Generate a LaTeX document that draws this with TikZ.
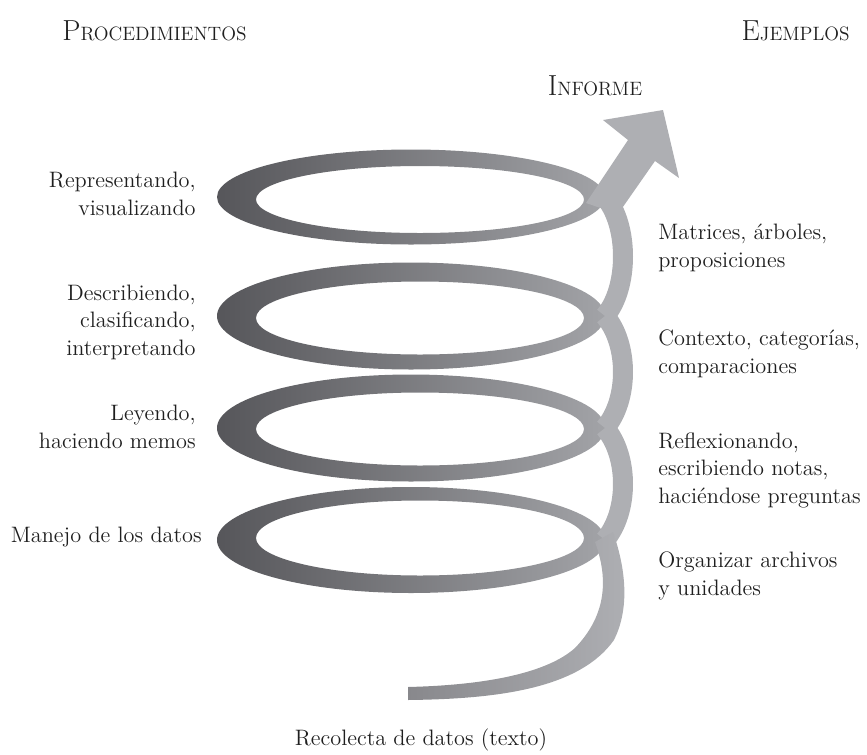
\documentclass[tikz,border=0pt]{standalone}
\usepackage{tikz}
\usetikzlibrary{positioning}

\definecolor{spiraldark}{RGB}{86,86,90}
\definecolor{spiralmid}{RGB}{162,163,167}
\definecolor{spirallight}{RGB}{174,175,179}
\definecolor{tailgray}{RGB}{136,136,140}

\newcommand{\smallhead}[2]{{\fontsize{16.5}{18}\selectfont #1}{\fontsize{11}{13}\selectfont #2}}

\begin{document}
\begin{tikzpicture}[x=0.02cm, y=-0.02cm, every node/.style={font=\fontsize{12.7}{15.6}\selectfont, inner sep=0pt, text=black!88}, proc/.style={align=right, anchor=base east}, ejem/.style={align=left, anchor=base west}, loopband/.style={left color=spiraldark, right color=spiralmid, even odd rule}, band/.style={draw=spirallight, line width=0.4cm}]

				\useasboundingbox (0,0) rectangle (867,755);

				\node (PR) [anchor=base west] at (62,40) {\smallhead{P}{ROCEDIMIENTOS}};
				\node (EJ) [anchor=base east] at (850,40) {\smallhead{E}{JEMPLOS}};
				\node (IN) [anchor=base] at (595,95) {\smallhead{I}{NFORME}};
				\node (RD) [anchor=base] at (421,745) {Recolecta de datos (texto)};

				\coordinate (L1) at (605,197);
				\coordinate (L2) at (605,316);
				\coordinate (L3) at (605,428);
				\coordinate (L4) at (605,540);

				\shade[loopband] (411,197) ellipse [x radius=194, y radius=47.5]
					(420,199.5) ellipse [x radius=164, y radius=33.5];
				\shade[loopband] (411,316) ellipse [x radius=194, y radius=53.5]
					(420,318) ellipse [x radius=164, y radius=36.5];
				\shade[loopband] (411,428) ellipse [x radius=194, y radius=53.5]
					(420,429) ellipse [x radius=164, y radius=36.5];
				\shade[loopband] (411,540) ellipse [x radius=194, y radius=53]
					(420,538) ellipse [x radius=164, y radius=37.5];

				\draw[band] (L1) .. controls +(24,28) and +(24,-28) .. (L2);
				\draw[band] (L2) .. controls +(24,28) and +(24,-28) .. (L3);
				\draw[band] (L3) .. controls +(24,28) and +(24,-28) .. (L4);

				\shade[left color=tailgray, right color=spirallight]
					(613,532) .. controls (628,575) and (628,612) .. (614,640)
					.. controls (580,688) and (500,699) .. (408,700) -- (408,687)
					.. controls (490,685) and (548,672) .. (575,648)
					.. controls (600,622) and (612,588) .. (595,542) -- cycle;

				\fill[spirallight] (586,203) -- (628,140) -- (603,120) -- (663,110)
					-- (679,178) -- (655,161) -- (618,214) -- cycle;

				\node (RV) [proc] at (196,215) {Representando,\\visualizando};
				\node (DC) [proc] at (196,355) {Describiendo,\\clasificando,\\interpretando};
				\node (LH) [proc] at (196,448) {Leyendo,\\haciendo memos};
				\node (MD) [proc] at (202,542) {Manejo de los datos};

				\node (MA) [ejem] at (658,267) {Matrices, árboles,\\proposiciones};
				\node (CC) [ejem] at (658,373) {Contexto, categorías,\\comparaciones};
				\node (RE) [ejem] at (658,503) {Reflexionando,\\escribiendo notas,\\haciéndose preguntas};
				\node (OA) [ejem] at (658,595) {Organizar archivos\\y unidades};

\end{tikzpicture}
\end{document}
